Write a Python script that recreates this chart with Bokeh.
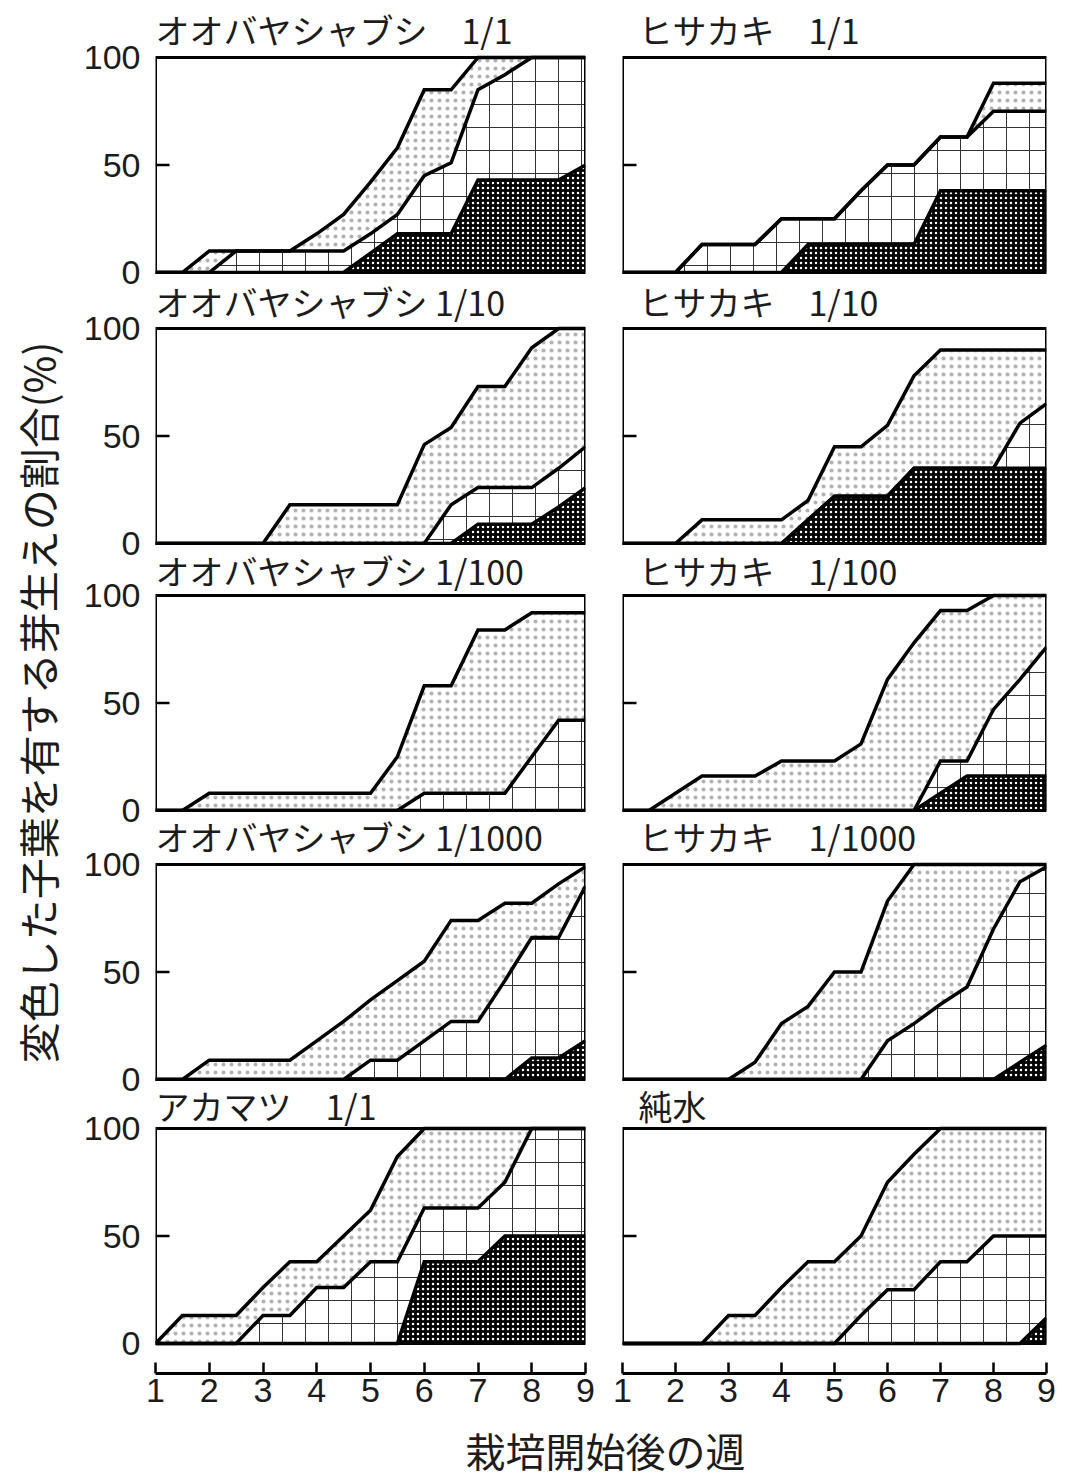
import math
from bokeh.plotting import figure
from bokeh.layouts import row, column
from bokeh.models import Range1d, FixedTicker, Label, BoxAnnotation
from bokeh.core.properties import value
from bokeh.embed import file_html
from bokeh.resources import INLINE

# ---------------- data ----------------
weeks = [1, 1.5, 2, 2.5, 3, 3.5, 4, 4.5, 5, 5.5, 6, 6.5, 7, 7.5, 8, 8.5, 9]
x_ticks = [1, 2, 3, 4, 5, 6, 7, 8, 9]
y_ticks = [0, 50, 100]

titles = [
    "オオバヤシャブシ\u30001/1", "ヒサカキ\u30001/1",
    "オオバヤシャブシ 1/10", "ヒサカキ\u30001/10",
    "オオバヤシャブシ 1/100", "ヒサカキ\u30001/100",
    "オオバヤシャブシ 1/1000", "ヒサカキ\u30001/1000",
    "アカマツ\u30001/1", "純水",
]
y_title = "変色した子葉を有する芽生えの割合(%)"
x_title = "栽培開始後の週"

oo1_top = [0, 0, 10, 10, 10, 10, 18, 27, 42, 58, 85, 85, 100, 100, 100, 100, 100]
oo1_mid = [0, 0, 0, 10, 10, 10, 10, 10, 18, 27, 45, 51, 85, 92, 100, 100, 100]
oo1_dark = [0, 0, 0, 0, 0, 0, 0, 0, 9, 18, 18, 18, 43, 43, 43, 43, 50]

hi1_top = [0, 0, 0, 13, 13, 13, 25, 25, 25, 38, 50, 50, 63, 63, 88, 88, 88]
hi1_mid = [0, 0, 0, 13, 13, 13, 25, 25, 25, 38, 50, 50, 63, 63, 75, 75, 75]
hi1_dark = [0, 0, 0, 0, 0, 0, 0, 13, 13, 13, 13, 13, 38, 38, 38, 38, 38]

oo10_top = [0, 0, 0, 0, 0, 18, 18, 18, 18, 18, 46, 54, 73, 73, 91, 100, 100]
oo10_mid = [0, 0, 0, 0, 0, 0, 0, 0, 0, 0, 0, 18, 26, 26, 26, 35, 45]
oo10_dark = [0, 0, 0, 0, 0, 0, 0, 0, 0, 0, 0, 0, 9, 9, 9, 17, 26]

hi10_top = [0, 0, 0, 11, 11, 11, 11, 20, 45, 45, 55, 78, 90, 90, 90, 90, 90]
hi10_mid = [0, 0, 0, 0, 0, 0, 0, 11, 22, 22, 22, 35, 35, 35, 35, 56, 65]
hi10_dark = [0, 0, 0, 0, 0, 0, 0, 11, 22, 22, 22, 35, 35, 35, 35, 35, 35]

oo100_top = [0, 0, 8, 8, 8, 8, 8, 8, 8, 25, 58, 58, 84, 84, 92, 92, 92]
oo100_mid = [0, 0, 0, 0, 0, 0, 0, 0, 0, 0, 8, 8, 8, 8, 25, 42, 42]
oo100_dark = [0, 0, 0, 0, 0, 0, 0, 0, 0, 0, 0, 0, 0, 0, 0, 0, 0]

hi100_top = [0, 0, 8, 16, 16, 16, 23, 23, 23, 31, 61, 78, 93, 93, 100, 100, 100]
hi100_mid = [0, 0, 0, 0, 0, 0, 0, 0, 0, 0, 0, 0, 23, 23, 47, 61, 76]
hi100_dark = [0, 0, 0, 0, 0, 0, 0, 0, 0, 0, 0, 0, 8, 16, 16, 16, 16]

oo1000_top = [0, 0, 9, 9, 9, 9, 18, 27, 37, 46, 55, 74, 74, 82, 82, 91, 99]
oo1000_mid = [0, 0, 0, 0, 0, 0, 0, 0, 9, 9, 18, 27, 27, 46, 66, 66, 90]
oo1000_dark = [0, 0, 0, 0, 0, 0, 0, 0, 0, 0, 0, 0, 0, 0, 10, 10, 18]

hi1000_top = [0, 0, 0, 0, 0, 8, 26, 34, 50, 50, 83, 100, 100, 100, 100, 100, 100]
hi1000_mid = [0, 0, 0, 0, 0, 0, 0, 0, 0, 0, 18, 26, 35, 43, 70, 92, 99]
hi1000_dark = [0, 0, 0, 0, 0, 0, 0, 0, 0, 0, 0, 0, 0, 0, 0, 8, 16]

aka_top = [0, 13, 13, 13, 26, 38, 38, 50, 62, 87, 100, 100, 100, 100, 100, 100, 100]
aka_mid = [0, 0, 0, 0, 13, 13, 26, 26, 38, 38, 63, 63, 63, 75, 100, 100, 100]
aka_dark = [0, 0, 0, 0, 0, 0, 0, 0, 0, 0, 38, 38, 38, 50, 50, 50, 50]

water_top = [0, 0, 0, 0, 13, 13, 26, 38, 38, 50, 75, 88, 100, 100, 100, 100, 100]
water_mid = [0, 0, 0, 0, 0, 0, 0, 0, 0, 13, 25, 25, 38, 38, 50, 50, 50]
water_dark = [0, 0, 0, 0, 0, 0, 0, 0, 0, 0, 0, 0, 0, 0, 0, 0, 12]

panels = [
    (oo1_top, oo1_mid, oo1_dark), (hi1_top, hi1_mid, hi1_dark),
    (oo10_top, oo10_mid, oo10_dark), (hi10_top, hi10_mid, hi10_dark),
    (oo100_top, oo100_mid, oo100_dark), (hi100_top, hi100_mid, hi100_dark),
    (oo1000_top, oo1000_mid, oo1000_dark), (hi1000_top, hi1000_mid, hi1000_dark),
    (aka_top, aka_mid, aka_dark), (water_top, water_mid, water_dark),
]

# ---------------- layout (page pixels) ----------------
JP = "Noto Sans CJK JP"
LAT = "Liberation Sans"
INK = "#1c1c1c"
PAGE_W, PAGE_H = 1068, 1479
YL_W = 74           # y-title strip
YAX_W = 81          # y tick-label strip (axis at its right edge)
BOX_H = 215.0
PX = BOX_H / 100.0  # pixels per percent
box_tops = [57, 328, 595, 864, 1128]
panel_bounds = [0, 274, 545, 812, 1081, 1362]
yaxis_bounds = [0, 300, 567, 836, 1100, 1362]
title_gaps = [12, 11, 9, 12, 7]     # px between title baseline and box top
TITLE_FS = 34
AXIS_Y = 1373
AXIS_BOTTOM = 1420

L_FRAME, L_RIGHT = 430, 18
R_LEFT, R_FRAME, R_RIGHT = 19, 424, 22


def y_range_for(r, y0, y1):
    T = box_tops[r]
    B = T + BOX_H
    return Range1d(-(y1 - B) / PX, 100 + (T - y0) / PX)


def make_panel(idx, r):
    left = idx % 2 == 0
    top, mid, dark = panels[idx]
    y0, y1 = panel_bounds[r], panel_bounds[r + 1]
    mbl, fw, mbr = (0, L_FRAME, L_RIGHT) if left else (R_LEFT, R_FRAME, R_RIGHT)
    p = figure(width=mbl + fw + mbr, height=y1 - y0,
               x_range=Range1d(weeks[0], weeks[-1]), y_range=y_range_for(r, y0, y1),
               min_border_left=mbl, min_border_right=mbr,
               min_border_top=0, min_border_bottom=0,
               x_axis_location=None, y_axis_location=None,
               output_backend="svg", toolbar_location=None)
    p.grid.visible = False
    p.outline_line_color = None

    zero = [0] * len(weeks)
    p.varea(x=weeks, y1=zero, y2=dark, fill_color="black",
            hatch_pattern=value("dot"), hatch_color="white", hatch_scale=5)
    p.varea(x=weeks, y1=dark, y2=mid, fill_color="white",
            hatch_pattern=value("cross"), hatch_color="#333333",
            hatch_scale=23, hatch_weight=1)
    p.varea(x=weeks, y1=mid, y2=top, fill_color="white",
            hatch_pattern=value("dot"), hatch_color="black", hatch_alpha=0.3,
            hatch_scale=8)
    for ys in (top, mid, dark):
        p.line(weeks, ys, line_color="black", line_width=3.5, line_join="miter")

    # inward tick mark at 50 %
    p.ray(x=[weeks[0]], y=[y_ticks[1]], length=14, length_units="screen",
          angle=0, line_color="black", line_width=2.5)

    p.add_layout(BoxAnnotation(left=weeks[0], right=weeks[-1],
                               bottom=y_ticks[0], top=y_ticks[-1],
                               fill_color=None, fill_alpha=0,
                               line_color="black", line_alpha=1, line_width=3))
    p.add_layout(Label(x=weeks[0], y=y_ticks[-1], x_offset=0 if left else 16,
                       y_offset=title_gaps[r] + 0.457 * TITLE_FS,
                       text=titles[idx], text_font=JP, text_font_size=f"{TITLE_FS}px",
                       text_color=INK, text_align="left", text_baseline="alphabetic"))
    return p


def make_yaxis(r):
    y0, y1 = yaxis_bounds[r], yaxis_bounds[r + 1]
    p = figure(width=YAX_W, height=y1 - y0, x_range=Range1d(0, 1),
               y_range=y_range_for(r, y0, y1),
               min_border_left=YAX_W - 1, min_border_right=0,
               min_border_top=0, min_border_bottom=0,
               x_axis_location=None, y_axis_location="left",
               output_backend="svg", toolbar_location=None)
    p.grid.visible = False
    p.outline_line_color = None
    ax = p.yaxis[0]
    ax.ticker = FixedTicker(ticks=y_ticks)
    ax.major_tick_in = 0
    ax.major_tick_out = 0
    ax.minor_tick_line_color = None
    ax.axis_line_color = None
    ax.major_label_text_font = LAT
    ax.major_label_text_font_size = "34px"
    ax.major_label_text_color = INK
    ax.major_label_standoff = 14
    return p


def make_xaxis(left):
    mbl, fw, mbr = (YAX_W, L_FRAME, L_RIGHT) if left else (R_LEFT, R_FRAME, R_RIGHT)
    fh = AXIS_Y - panel_bounds[-1]
    p = figure(width=mbl + fw + mbr, height=AXIS_BOTTOM - panel_bounds[-1],
               x_range=Range1d(weeks[0], weeks[-1]), y_range=Range1d(0, 1),
               min_border_left=mbl, min_border_right=mbr,
               min_border_top=0, min_border_bottom=AXIS_BOTTOM - AXIS_Y,
               y_axis_location=None, output_backend="svg", toolbar_location=None)
    p.grid.visible = False
    p.outline_line_color = None
    xa = p.xaxis[0]
    xa.ticker = FixedTicker(ticks=x_ticks)
    xa.major_tick_in = fh
    xa.major_tick_out = 0
    xa.major_tick_line_width = 2.5
    xa.major_tick_line_color = "black"
    xa.minor_tick_line_color = None
    xa.axis_line_width = 3
    xa.axis_line_color = "black"
    xa.major_label_text_font = LAT
    xa.major_label_text_font_size = "34px"
    xa.major_label_text_color = INK
    xa.major_label_standoff = 5
    return p


ycol = column(*[make_yaxis(r) for r in range(5)])
lcol = column(*[make_panel(2 * r, r) for r in range(5)])
rcol = column(*[make_panel(2 * r + 1, r) for r in range(5)])
axes_row = row(make_xaxis(True), make_xaxis(False))

xl_h = PAGE_H - AXIS_BOTTOM
xl = figure(width=PAGE_W - YL_W, height=xl_h, x_range=Range1d(YL_W, PAGE_W),
            y_range=Range1d(0, xl_h), min_border=0,
            x_axis_location=None, y_axis_location=None,
            output_backend="svg", toolbar_location=None)
xl.grid.visible = False
xl.outline_line_color = None
xl.add_layout(Label(x=605, y=xl_h - (1449 - AXIS_BOTTOM), text=x_title, text_font=JP,
                    text_font_size="40px", text_color=INK,
                    text_align="center", text_baseline="middle"))

yl = figure(width=YL_W, height=PAGE_H, x_range=Range1d(0, YL_W), y_range=Range1d(0, PAGE_H),
            min_border=0, x_axis_location=None, y_axis_location=None,
            output_backend="svg", toolbar_location=None)
yl.grid.visible = False
yl.outline_line_color = None
yl.add_layout(Label(x=36, y=PAGE_H - 702, text=y_title, angle=math.pi / 2,
                    text_font=JP, text_font_size="41px", text_color=INK,
                    text_align="center", text_baseline="middle"))

page = row(yl, column(row(ycol, lcol, rcol), axes_row, xl))
open("out.html", "w").write(file_html(page, INLINE))
